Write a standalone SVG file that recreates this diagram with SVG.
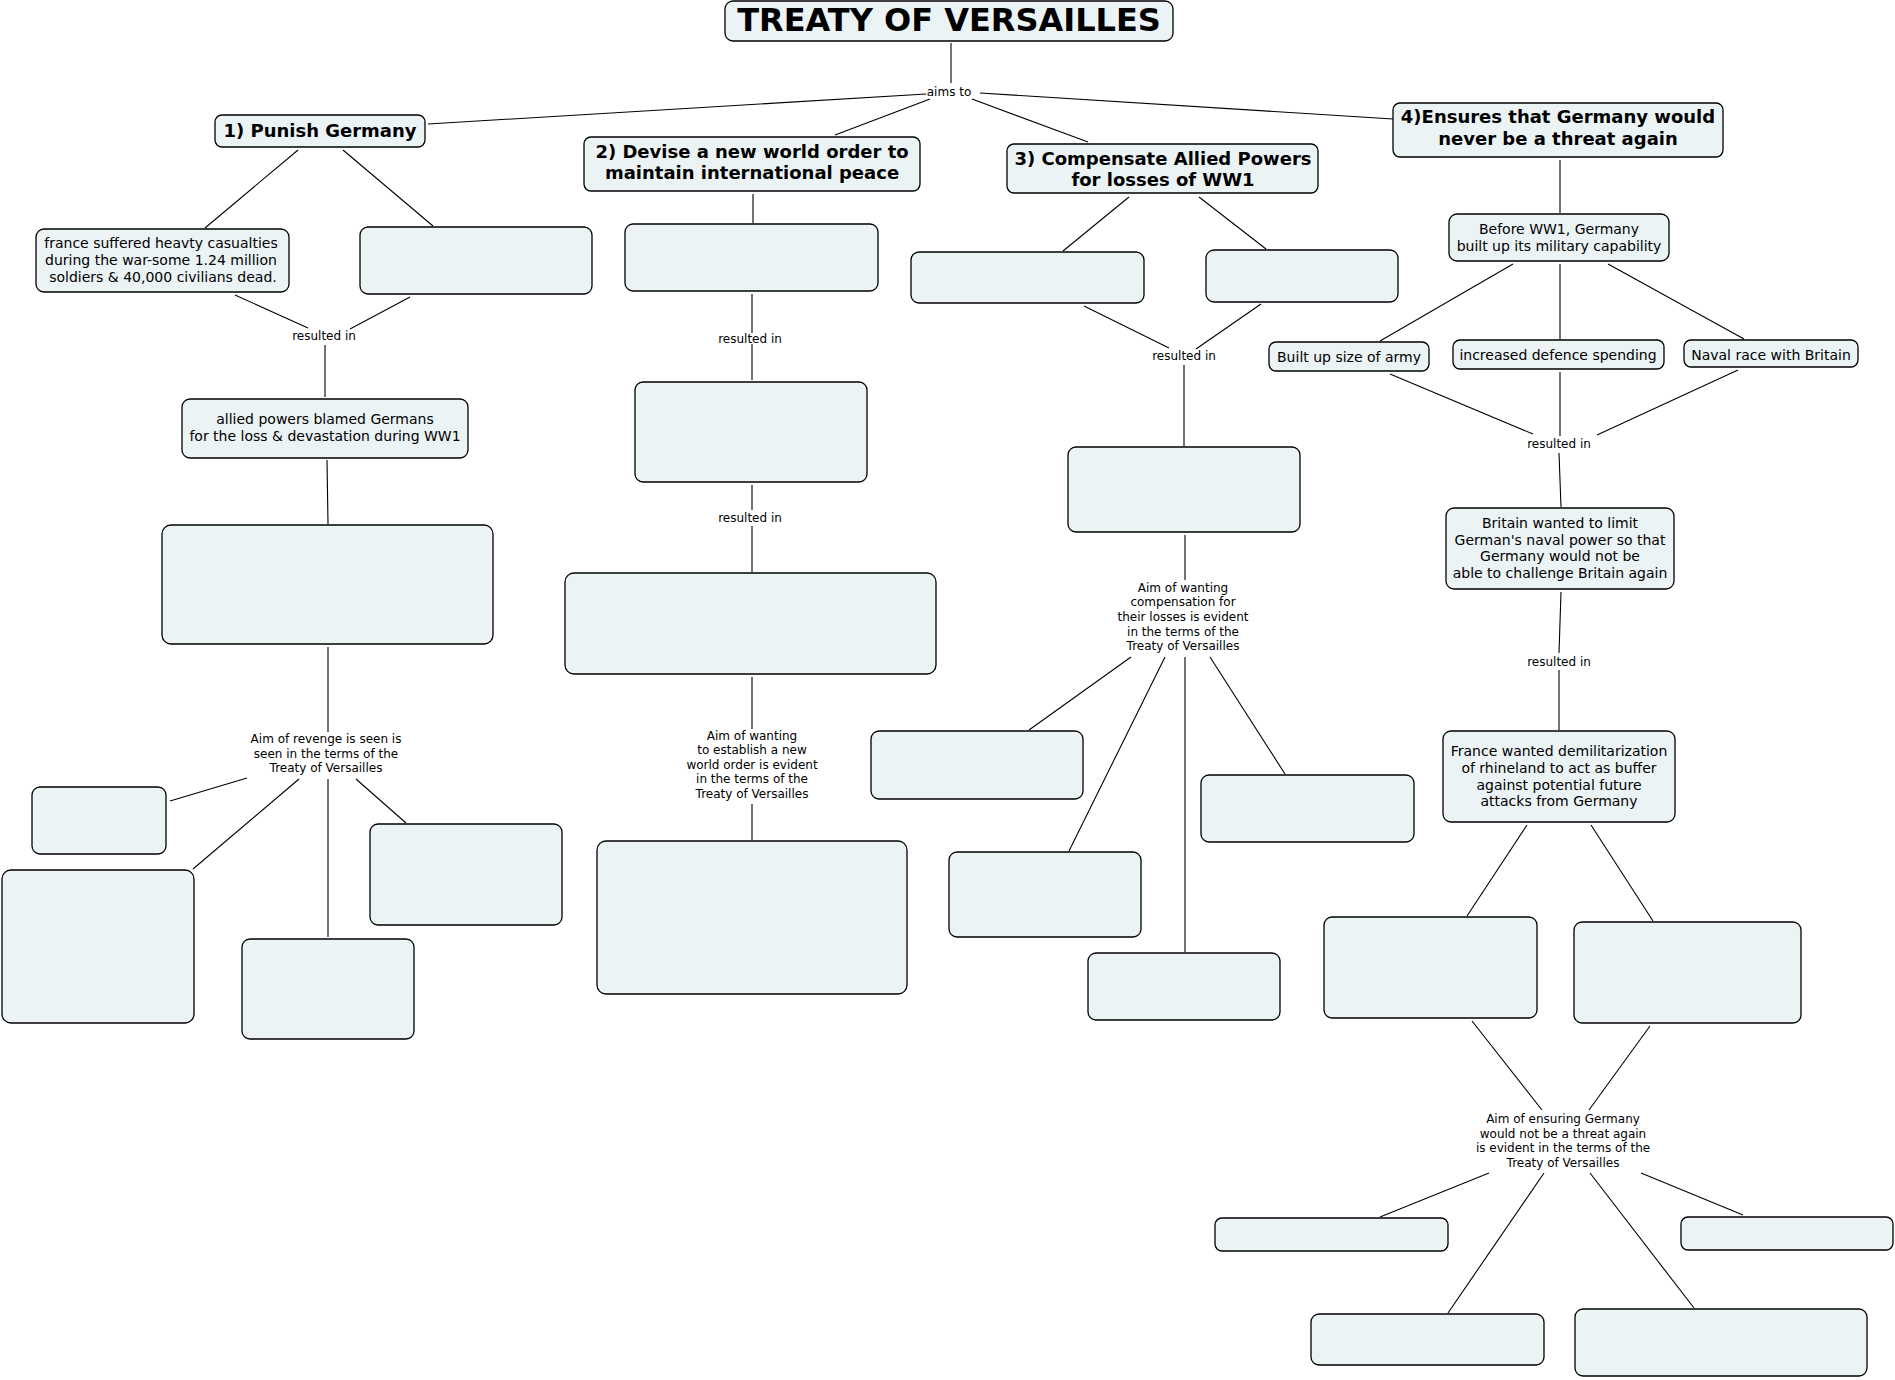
<svg xmlns="http://www.w3.org/2000/svg" width="1895" height="1380" viewBox="0 0 1895 1380">
<style>
.box{fill:#ebf3f5;stroke:#000;stroke-width:1.3}
.t{font-family:"DejaVu Sans",Verdana,sans-serif;font-size:14px;fill:#000;text-anchor:middle}
.h{font-family:"DejaVu Sans",Verdana,sans-serif;font-size:18px;font-weight:bold;fill:#000;text-anchor:middle}
.ti{font-family:"DejaVu Sans",Verdana,sans-serif;font-size:32px;font-weight:bold;fill:#000;text-anchor:middle}
.l{font-family:"DejaVu Sans",Verdana,sans-serif;font-size:12px;fill:#000;text-anchor:middle}
.c line{stroke:#000;stroke-width:1.1}
</style>
<rect width="1895" height="1380" fill="#fff"/>
<g class="c" id="connectors">
<line x1="951" y1="43" x2="951" y2="83"/>
<line x1="926" y1="94" x2="428" y2="124"/>
<line x1="930" y1="99" x2="835" y2="135"/>
<line x1="972" y1="99" x2="1088" y2="142"/>
<line x1="980" y1="93" x2="1393" y2="119"/>
<line x1="298" y1="150" x2="205" y2="228"/>
<line x1="343" y1="150" x2="433" y2="226"/>
<line x1="235" y1="295" x2="308" y2="328"/>
<line x1="410" y1="297" x2="350" y2="329"/>
<line x1="325" y1="345" x2="325" y2="397"/>
<line x1="327" y1="460" x2="328" y2="524"/>
<line x1="328" y1="647" x2="328" y2="732"/>
<line x1="247" y1="778" x2="170" y2="801"/>
<line x1="299" y1="779" x2="193" y2="869"/>
<line x1="328" y1="779" x2="328" y2="937"/>
<line x1="356" y1="779" x2="406" y2="823"/>
<line x1="753" y1="194" x2="753" y2="223"/>
<line x1="752" y1="294" x2="752" y2="333"/>
<line x1="752" y1="344" x2="752" y2="380"/>
<line x1="752" y1="485" x2="752" y2="510"/>
<line x1="752" y1="526" x2="752" y2="572"/>
<line x1="752" y1="677" x2="752" y2="729"/>
<line x1="752" y1="804" x2="752" y2="840"/>
<line x1="1129" y1="197" x2="1063" y2="251"/>
<line x1="1199" y1="197" x2="1266" y2="249"/>
<line x1="1084" y1="306" x2="1169" y2="348"/>
<line x1="1261" y1="304" x2="1196" y2="349"/>
<line x1="1184" y1="365" x2="1184" y2="446"/>
<line x1="1185" y1="535" x2="1185" y2="580"/>
<line x1="1131" y1="657" x2="1029" y2="730"/>
<line x1="1165" y1="657" x2="1069" y2="851"/>
<line x1="1185" y1="657" x2="1185" y2="952"/>
<line x1="1210" y1="657" x2="1285" y2="774"/>
<line x1="1560" y1="160" x2="1560" y2="213"/>
<line x1="1513" y1="264" x2="1380" y2="341"/>
<line x1="1560" y1="264" x2="1560" y2="339"/>
<line x1="1608" y1="264" x2="1744" y2="339"/>
<line x1="1390" y1="374" x2="1533" y2="434"/>
<line x1="1560" y1="372" x2="1560" y2="436"/>
<line x1="1738" y1="370" x2="1597" y2="435"/>
<line x1="1559" y1="453" x2="1561" y2="507"/>
<line x1="1561" y1="592" x2="1559" y2="653"/>
<line x1="1559" y1="670" x2="1559" y2="730"/>
<line x1="1527" y1="825" x2="1467" y2="916"/>
<line x1="1591" y1="825" x2="1653" y2="921"/>
<line x1="1472" y1="1021" x2="1542" y2="1110"/>
<line x1="1650" y1="1026" x2="1589" y2="1110"/>
<line x1="1489" y1="1173" x2="1380" y2="1217"/>
<line x1="1544" y1="1173" x2="1448" y2="1313"/>
<line x1="1590" y1="1173" x2="1694" y2="1308"/>
<line x1="1641" y1="1173" x2="1743" y2="1215"/>
<text class="l" x="949" y="96">aims to</text>
<text class="l" x="324" y="340">resulted in</text>
<text class="l" x="750" y="343">resulted in</text>
<text class="l" x="750" y="522">resulted in</text>
<text class="l" x="1184" y="360">resulted in</text>
<text class="l" x="1559" y="448">resulted in</text>
<text class="l" x="1559" y="666">resulted in</text>
<text class="l" x="326" y="743">Aim of revenge is seen is</text>
<text class="l" x="326" y="758">seen in the terms of the</text>
<text class="l" x="326" y="772">Treaty of Versailles</text>
<text class="l" x="752" y="740">Aim of wanting</text>
<text class="l" x="752" y="754">to establish a new</text>
<text class="l" x="752" y="769">world order is evident</text>
<text class="l" x="752" y="783">in the terms of the</text>
<text class="l" x="752" y="798">Treaty of Versailles</text>
<text class="l" x="1183" y="592">Aim of wanting</text>
<text class="l" x="1183" y="606">compensation for</text>
<text class="l" x="1183" y="621">their losses is evident</text>
<text class="l" x="1183" y="636">in the terms of the</text>
<text class="l" x="1183" y="650">Treaty of Versailles</text>
<text class="l" x="1563" y="1123">Aim of ensuring Germany</text>
<text class="l" x="1563" y="1138">would not be a threat again</text>
<text class="l" x="1563" y="1152">is evident in the terms of the</text>
<text class="l" x="1563" y="1167">Treaty of Versailles</text>
</g>
<g id="title"><rect class="box" x="725" y="1" width="448" height="40" rx="8"/><text class="ti" x="949" y="31">TREATY OF VERSAILLES</text></g>
<g id="punish"><rect class="box" x="215" y="115" width="210" height="32" rx="7"/><text class="h" x="320" y="137">1) Punish Germany</text></g>
<g id="devise"><rect class="box" x="584" y="137" width="336" height="54" rx="7"/><text class="h" x="752" y="158">2) Devise a new world order to</text><text class="h" x="752" y="179">maintain international peace</text></g>
<g id="compensate"><rect class="box" x="1007" y="144" width="311" height="49" rx="7"/><text class="h" x="1163" y="165">3) Compensate Allied Powers</text><text class="h" x="1163" y="186">for losses of WW1</text></g>
<g id="ensures"><rect class="box" x="1393" y="103" width="330" height="54" rx="7"/><text class="h" x="1558" y="123">4)Ensures that Germany would</text><text class="h" x="1558" y="145">never be a threat again</text></g>
<g id="france-casualties"><rect class="box" x="36" y="229" width="253" height="63" rx="8"/><text class="t" x="161" y="248">france suffered heavty casualties</text><text class="t" x="161" y="265">during the war-some 1.24 million</text><text class="t" x="163" y="282">soldiers &amp; 40,000 civilians dead.</text></g>
<g id="p-empty1"><rect class="box" x="360" y="227" width="232" height="67" rx="8"/></g>
<g id="allied-blamed"><rect class="box" x="182" y="399" width="286" height="59" rx="8"/><text class="t" x="325" y="424">allied powers blamed Germans</text><text class="t" x="325" y="441">for the loss &amp; devastation during WW1</text></g>
<g id="p-empty2"><rect class="box" x="162" y="525" width="331" height="119" rx="9"/></g>
<g id="p-empty3"><rect class="box" x="32" y="787" width="134" height="67" rx="8"/></g>
<g id="p-empty4"><rect class="box" x="2" y="870" width="192" height="153" rx="9"/></g>
<g id="p-empty5"><rect class="box" x="370" y="824" width="192" height="101" rx="8"/></g>
<g id="p-empty6"><rect class="box" x="242" y="939" width="172" height="100" rx="8"/></g>
<g id="d-empty1"><rect class="box" x="625" y="224" width="253" height="67" rx="8"/></g>
<g id="d-empty2"><rect class="box" x="635" y="382" width="232" height="100" rx="8"/></g>
<g id="d-empty3"><rect class="box" x="565" y="573" width="371" height="101" rx="9"/></g>
<g id="d-empty4"><rect class="box" x="597" y="841" width="310" height="153" rx="9"/></g>
<g id="c-empty1"><rect class="box" x="911" y="252" width="233" height="51" rx="8"/></g>
<g id="c-empty2"><rect class="box" x="1206" y="250" width="192" height="52" rx="8"/></g>
<g id="c-empty3"><rect class="box" x="1068" y="447" width="232" height="85" rx="8"/></g>
<g id="c-empty4"><rect class="box" x="871" y="731" width="212" height="68" rx="8"/></g>
<g id="c-empty5"><rect class="box" x="949" y="852" width="192" height="85" rx="8"/></g>
<g id="c-empty6"><rect class="box" x="1088" y="953" width="192" height="67" rx="8"/></g>
<g id="c-empty7"><rect class="box" x="1201" y="775" width="213" height="67" rx="8"/></g>
<g id="before-ww1"><rect class="box" x="1449" y="214" width="220" height="47" rx="8"/><text class="t" x="1559" y="234">Before WW1, Germany</text><text class="t" x="1559" y="251">built up its military capability</text></g>
<g id="army"><rect class="box" x="1269" y="342" width="160" height="29" rx="7"/><text class="t" x="1349" y="362">Built up size of army</text></g>
<g id="defence"><rect class="box" x="1453" y="340" width="211" height="29" rx="7"/><text class="t" x="1558" y="360">increased defence spending</text></g>
<g id="naval"><rect class="box" x="1684" y="340" width="174" height="27" rx="7"/><text class="t" x="1771" y="360">Naval race with Britain</text></g>
<g id="britain"><rect class="box" x="1446" y="508" width="228" height="81" rx="8"/><text class="t" x="1560" y="528">Britain wanted to limit</text><text class="t" x="1560" y="545">German's naval power so that</text><text class="t" x="1560" y="561">Germany would not be</text><text class="t" x="1560" y="578">able to challenge Britain again</text></g>
<g id="france-rhineland"><rect class="box" x="1443" y="731" width="232" height="91" rx="8"/><text class="t" x="1559" y="756">France wanted demilitarization</text><text class="t" x="1559" y="773">of rhineland to act as buffer</text><text class="t" x="1559" y="790">against potential future</text><text class="t" x="1559" y="806">attacks from Germany</text></g>
<g id="e-empty1"><rect class="box" x="1324" y="917" width="213" height="101" rx="8"/></g>
<g id="e-empty2"><rect class="box" x="1574" y="922" width="227" height="101" rx="8"/></g>
<g id="e-empty3"><rect class="box" x="1215" y="1218" width="233" height="33" rx="7"/></g>
<g id="e-empty4"><rect class="box" x="1681" y="1217" width="212" height="33" rx="7"/></g>
<g id="e-empty5"><rect class="box" x="1311" y="1314" width="233" height="51" rx="8"/></g>
<g id="e-empty6"><rect class="box" x="1575" y="1309" width="292" height="67" rx="8"/></g>
</svg>
